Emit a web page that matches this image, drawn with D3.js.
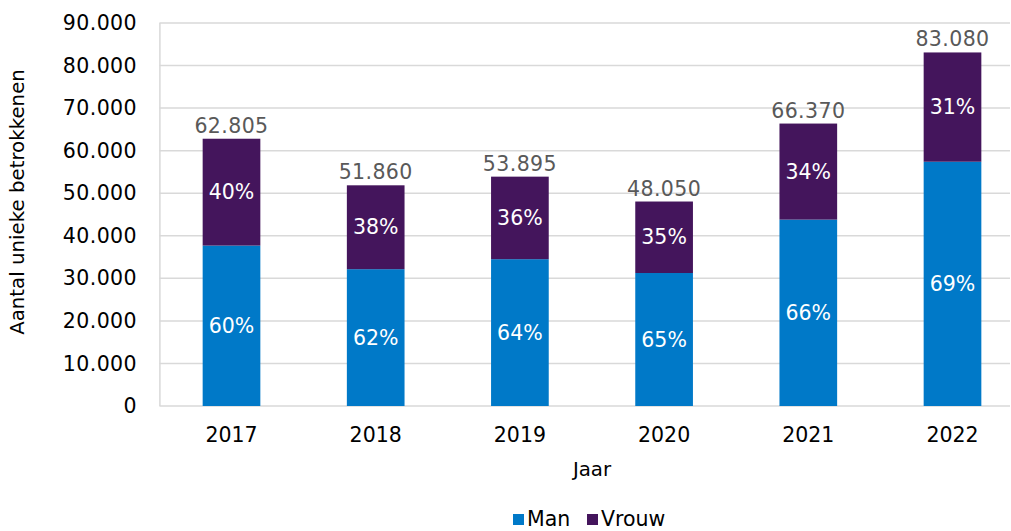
<!DOCTYPE html>
<html>
<head>
<meta charset="utf-8">
<script src="https://cdn.jsdelivr.net/npm/d3@7"></script>
<style>
  body { margin: 0; background: #fff; }
  svg { font-family: "DejaVu Sans", Verdana, sans-serif; display: block; }
</style>
</head>
<body>
<div id="chart"></div>
<script>
// stacked bars: unieke betrokkenen per jaar, man / vrouw

const years = ["2017", "2018", "2019", "2020", "2021", "2022"];
const totals = [62805, 51860, 53895, 48050, 66370, 83080];
const man = [37700, 32150, 34500, 31250, 43800, 57400];
const vrouw = [25105, 19710, 19395, 16800, 22570, 25680];
const manPct = ["60%", "62%", "64%", "65%", "66%", "69%"];
const vrouwPct = ["40%", "38%", "36%", "35%", "34%", "31%"];
const yTicks = [0, 10000, 20000, 30000, 40000, 50000, 60000, 70000, 80000, 90000];

const width = 1011;
const height = 531;
const margin = { top: 23, left: 159.4, bottom: 125 };
const plotRight = 1024.6;
const plotBottom = height - margin.bottom;
const fs = 20.5;

const blue = "#0079c8";
const purple = "#44155c";

const svg = d3.select("#chart").append("svg")
  .attr("width", width)
  .attr("height", height);

const x = d3.scaleBand().domain(years).range([margin.left, plotRight]).paddingInner(0.6).paddingOuter(0.3);
const y = d3.scaleLinear().domain([0, 90000]).range([plotBottom, margin.top]);

const fmt = d3.formatLocale({ decimal: ",", thousands: ".", grouping: [3], currency: ["€", ""] }).format(",");

// gridlines
svg.append("g")
  .selectAll("line")
  .data(yTicks)
  .join("line")
  .attr("x1", margin.left)
  .attr("x2", 1010)
  .attr("y1", d => y(d))
  .attr("y2", d => y(d))
  .attr("stroke", "#d9d9d9")
  .attr("stroke-width", 1.5);

// left axis line
svg.append("line")
  .attr("x1", margin.left + 0.5).attr("x2", margin.left + 0.5)
  .attr("y1", y(90000)).attr("y2", plotBottom)
  .attr("stroke", "#d9d9d9").attr("stroke-width", 1.5);

// y tick labels
const yAxis = svg.append("g")
  .attr("transform", `translate(137,0)`)
  .call(d3.axisLeft(y).tickValues(yTicks).tickSize(0).tickPadding(0).tickFormat(fmt));
yAxis.select(".domain").remove();
yAxis.selectAll("text")
  .attr("font-size", fs)
  .attr("letter-spacing", 0.4)
  .attr("fill", "#000")
  .attr("font-family", "DejaVu Sans, Verdana, sans-serif");

// x tick labels
const xAxis = svg.append("g")
  .attr("transform", `translate(0,${plotBottom})`)
  .call(d3.axisBottom(x).tickSize(0).tickPadding(21));
xAxis.select(".domain").remove();
xAxis.selectAll("text")
  .attr("font-size", fs)
  .attr("fill", "#000")
  .attr("font-family", "DejaVu Sans, Verdana, sans-serif");

const rows = years.map((yr, i) => ({ yr, man: man[i], vrouw: vrouw[i], total: totals[i], mp: manPct[i], vp: vrouwPct[i] }));

const bars = svg.append("g");

bars.selectAll("rect.man")
  .data(rows)
  .join("rect")
  .attr("class", "man")
  .attr("x", d => x(d.yr))
  .attr("width", x.bandwidth())
  .attr("y", d => y(d.man))
  .attr("height", d => y(0) - y(d.man))
  .attr("fill", blue);

bars.selectAll("rect.vrouw")
  .data(rows)
  .join("rect")
  .attr("class", "vrouw")
  .attr("x", d => x(d.yr))
  .attr("width", x.bandwidth())
  .attr("y", d => y(d.man + d.vrouw))
  .attr("height", d => y(d.man) - y(d.man + d.vrouw))
  .attr("fill", purple);

// percentage labels
bars.selectAll("text.mp")
  .data(rows)
  .join("text")
  .attr("class", "mp")
  .attr("x", d => x(d.yr) + x.bandwidth() / 2)
  .attr("y", d => y(d.man / 2))
  .attr("dy", "0.35em")
  .attr("text-anchor", "middle")
  .attr("font-size", fs)
  .attr("fill", "#fff")
  .text(d => d.mp);

bars.selectAll("text.vp")
  .data(rows)
  .join("text")
  .attr("class", "vp")
  .attr("x", d => x(d.yr) + x.bandwidth() / 2)
  .attr("y", d => y(d.man + d.vrouw / 2))
  .attr("dy", "0.35em")
  .attr("text-anchor", "middle")
  .attr("font-size", fs)
  .attr("fill", "#fff")
  .text(d => d.vp);

// totals above bars
bars.selectAll("text.total")
  .data(rows)
  .join("text")
  .attr("class", "total")
  .attr("x", d => x(d.yr) + x.bandwidth() / 2)
  .attr("y", d => y(d.total) - 6)
  .attr("text-anchor", "middle")
  .attr("font-size", fs)
  .attr("letter-spacing", 0.4)
  .attr("fill", "#595959")
  .text(d => fmt(d.total));

// axis titles
svg.append("text")
  .attr("text-anchor", "middle")
  .attr("transform", `translate(24, 202) rotate(-90)`)
  .attr("font-size", 19.8)
  .attr("fill", "#000")
  .text("Aantal unieke betrokkenen");

svg.append("text")
  .attr("x", 592)
  .attr("y", 476)
  .attr("text-anchor", "middle")
  .attr("font-size", 19.8)
  .attr("fill", "#000")
  .text("Jaar");

// legend
const legend = [["Man", blue, 513], ["Vrouw", purple, 587]];
const lg = svg.append("g");
lg.selectAll("rect")
  .data(legend)
  .join("rect")
  .attr("x", d => d[2])
  .attr("y", 514)
  .attr("width", 11)
  .attr("height", 11)
  .attr("fill", d => d[1]);
lg.selectAll("text")
  .data(legend)
  .join("text")
  .attr("x", d => d[2] + 14)
  .attr("y", 526)
  .attr("font-size", fs)
  .attr("fill", "#000")
  .text(d => d[0]);
</script>
</body>
</html>
